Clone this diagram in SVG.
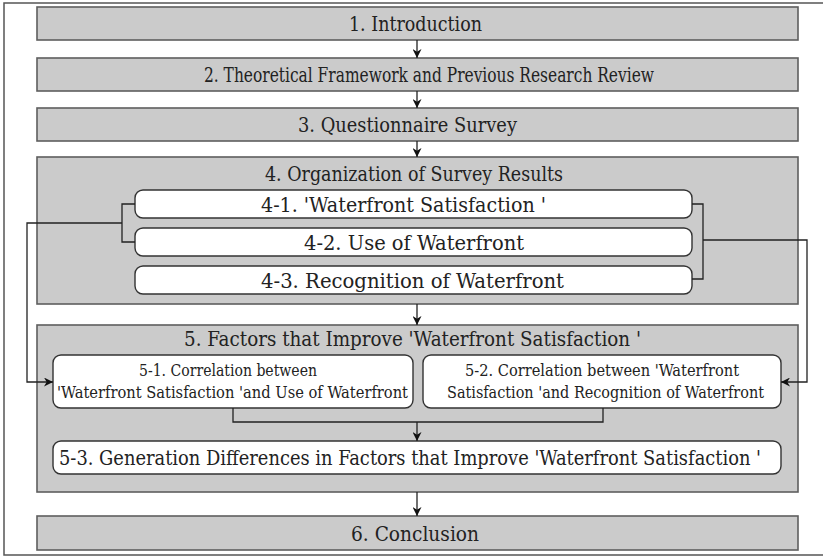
<svg xmlns="http://www.w3.org/2000/svg" width="823" height="558" viewBox="0 0 823 558">
<style>
.frame{fill:none;stroke:#555;stroke-width:1.5}
.gbox{fill:#cbcbcb;stroke:#5e5e5e;stroke-width:1.6}
.wbox{fill:#fff;stroke:#333;stroke-width:1.4}
.t{font-family:"DejaVu Serif Condensed","DejaVu Serif","Liberation Serif",serif;font-stretch:condensed;font-size:21px;fill:#222}
.s{font-family:"DejaVu Serif Condensed","DejaVu Serif","Liberation Serif",serif;font-stretch:condensed;font-size:17px;fill:#222}
.c{fill:none;stroke:#222;stroke-width:1.3}
</style>
<defs>
<marker id="ah" viewBox="0 0 10 10" refX="10" refY="5" markerWidth="9" markerHeight="9" markerUnits="userSpaceOnUse" orient="auto">
<path d="M0,0 L10,5 L0,10 L3,5 z" fill="#111"/>
</marker>
</defs>
<rect x="4" y="3" width="840" height="552" class="frame"/>
<g id="n1"><rect x="37" y="7" width="761" height="33" class="gbox"/><text x="349" y="31" class="t" textLength="133" lengthAdjust="spacingAndGlyphs">1. Introduction</text></g>
<g id="n2"><rect x="37" y="58" width="761" height="33" class="gbox"/><text x="204" y="82" class="t" textLength="450" lengthAdjust="spacingAndGlyphs">2. Theoretical Framework and Previous Research Review</text></g>
<g id="n3"><rect x="37" y="108" width="761" height="33" class="gbox"/><text x="298" y="132" class="t" textLength="219" lengthAdjust="spacingAndGlyphs">3. Questionnaire Survey</text></g>
<g id="n4"><rect x="37" y="157" width="761" height="147" class="gbox"/><text x="265" y="181" class="t" textLength="298" lengthAdjust="spacingAndGlyphs">4. Organization of Survey Results</text></g>
<g id="n4-1"><rect x="135" y="190" width="557" height="28" rx="8" class="wbox"/><text x="261" y="212" class="t" textLength="285" lengthAdjust="spacingAndGlyphs">4-1.  'Waterfront Satisfaction '</text></g>
<g id="n4-2"><rect x="135" y="228" width="557" height="28" rx="8" class="wbox"/><text x="304" y="250" class="t" textLength="220" lengthAdjust="spacingAndGlyphs">4-2. Use of Waterfront</text></g>
<g id="n4-3"><rect x="135" y="266" width="557" height="28" rx="8" class="wbox"/><text x="261" y="288" class="t" textLength="303" lengthAdjust="spacingAndGlyphs">4-3. Recognition of Waterfront</text></g>
<g id="n5"><rect x="37" y="325" width="761" height="167" class="gbox"/><text x="184" y="346" class="t" textLength="457" lengthAdjust="spacingAndGlyphs">5. Factors that Improve  'Waterfront Satisfaction '</text></g>
<g id="n5-1"><rect x="53" y="355" width="360" height="53" rx="8" class="wbox"/><text x="139" y="376" class="s" textLength="178" lengthAdjust="spacingAndGlyphs">5-1. Correlation between</text><text x="57" y="398" class="s" textLength="351" lengthAdjust="spacingAndGlyphs">'Waterfront Satisfaction 'and Use of Waterfront</text></g>
<g id="n5-2"><rect x="423" y="355" width="358" height="53" rx="8" class="wbox"/><text x="465" y="376" class="s" textLength="274" lengthAdjust="spacingAndGlyphs">5-2. Correlation between  'Waterfront</text><text x="447" y="398" class="s" textLength="317" lengthAdjust="spacingAndGlyphs">Satisfaction 'and Recognition of Waterfront</text></g>
<g id="n5-3"><rect x="53" y="441" width="728" height="33" rx="8" class="wbox"/><text x="59" y="465" class="t" textLength="702" lengthAdjust="spacingAndGlyphs">5-3. Generation Differences in Factors that Improve  'Waterfront Satisfaction '</text></g>
<g id="n6"><rect x="37" y="516" width="761" height="34" class="gbox"/><text x="351" y="541" class="t" textLength="128" lengthAdjust="spacingAndGlyphs">6. Conclusion</text></g>
<g id="connectors">
<line x1="417" y1="40" x2="417" y2="58" class="c" marker-end="url(#ah)"/>
<line x1="417" y1="91" x2="417" y2="108" class="c" marker-end="url(#ah)"/>
<line x1="417" y1="141" x2="417" y2="157" class="c" marker-end="url(#ah)"/>
<line x1="417" y1="304" x2="417" y2="325" class="c" marker-end="url(#ah)"/>
<line x1="417" y1="492" x2="417" y2="516" class="c" marker-end="url(#ah)"/>
<path d="M135,204 H122 V242 H135" class="c"/>
<path d="M122,223 H27 V382 H53" class="c" marker-end="url(#ah)"/>
<path d="M692,204 H703 V279 H692" class="c"/>
<path d="M703,240 H807 V382 H781" class="c" marker-end="url(#ah)"/>
<path d="M233,408 V422 H603 V408" class="c"/>
<line x1="417" y1="422" x2="417" y2="441" class="c" marker-end="url(#ah)"/>
</g>
</svg>
